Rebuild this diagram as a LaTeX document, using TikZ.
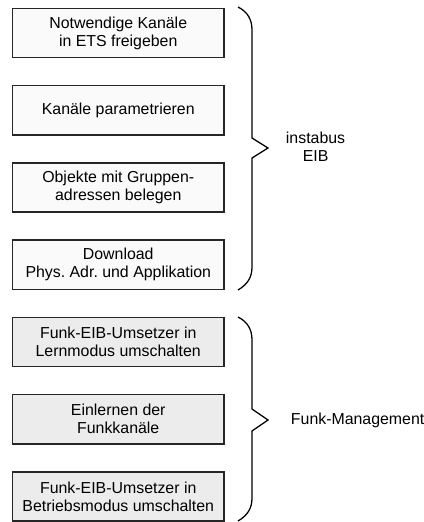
\documentclass[tikz,border=0pt]{standalone}
\usepackage{fontspec}
\setmainfont{Liberation Sans}
\usetikzlibrary{positioning}
\frenchspacing
\definecolor{eibfill}{RGB}{250,250,250}
\definecolor{funkfill}{RGB}{236,236,236}
\tikzset{
  schritt/.style={draw=black!85, line width=1pt, minimum width=5.29cm, minimum height=1.23cm,
    inner sep=0pt, align=center, font=\fontsize{11.3}{12.8}\selectfont},
  eibschritt/.style={schritt, fill=eibfill},
  funkschritt/.style={schritt, fill=funkfill},
  klammer/.style={black, line width=0.9pt},
  klammertext/.style={anchor=west, align=center, font=\fontsize{11.3}{12.8}\selectfont},
}

\begin{document}
\begin{tikzpicture}[x=0.025cm, y=-0.025cm]
\useasboundingbox (0,0) rectangle (423,522);
\node[eibschritt] (freigeben) at (118.25,33) {Notwendige Kanäle\\in ETS freigeben};
\node[eibschritt] (parameter) at (118.25,110.25) {Kanäle parametrieren};
\node[eibschritt] (gruppen) at (118.25,187.5) {Objekte mit Gruppen-\\adressen belegen};
\node[eibschritt] (download) at (118.25,264.75) {Download\\Phys. Adr. und Applikation};
\node[funkschritt] (lernen) at (118.25,342) {Funk-EIB-Umsetzer in\\Lernmodus umschalten};
\node[funkschritt] (einlernen) at (118.25,419.25) {Einlernen der\\Funkkanäle};
\node[funkschritt] (betrieb) at (118.25,496.5) {Funk-EIB-Umsetzer in\\Betriebsmodus umschalten};
\draw[klammer] (238,7) .. controls (248,12) and (252,20) .. (252,30) -- (252,138) -- (268,148)
  -- (252,158) -- (252,267) .. controls (252,277) and (248,284) .. (238,290);
\draw[klammer] (238,317) .. controls (248,322) and (252,330) .. (252,340) -- (252,409) -- (268,420)
  -- (252,431) -- (252,498) .. controls (252,508) and (248,515) .. (238,521);
\node[klammertext] (eib) at (281,147) {instabus\\EIB};
\node[klammertext] (funk) at (286,420) {Funk-Management};
\end{tikzpicture}
\end{document}
